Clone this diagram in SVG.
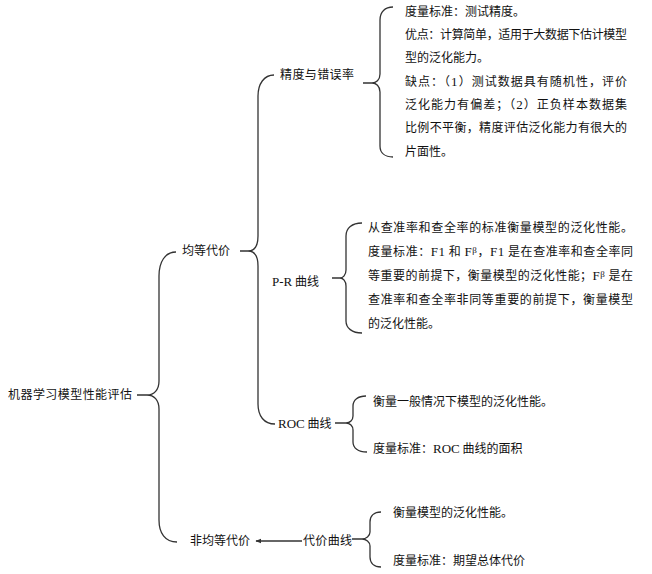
<svg xmlns="http://www.w3.org/2000/svg" width="652" height="574" viewBox="0 0 652 574">
<style>
text{font-family:"Noto Sans CJK SC","Liberation Sans",sans-serif;font-size:12px;fill:#111}
.lat{font-family:"Liberation Serif",serif;font-size:13px}
.sup{font-family:"Liberation Serif",serif;font-size:9px}
.br{fill:none;stroke:#333;stroke-width:1.3}
</style>
<defs>
<marker id="ah" viewBox="0 0 10 10" refX="9" refY="5" markerWidth="6" markerHeight="6" orient="auto-start-reverse" markerUnits="userSpaceOnUse">
<path d="M0,1 L10,5 L0,9 z" fill="#333"/>
</marker>
</defs>
<rect width="652" height="574" fill="#fff"/>
<g id="connectors">
<path class="br" d="M137,395 L147,395 M176,252 C165,252 159,262 159,276 L159,381 C159,390 154,395 147,395 C154,395 159,400 159,409 L159,520 C159,533 165,542 177,542"/>
<path class="br" d="M240,251 L248,251 M274,75 C264,75 258,84 258,96 L258,236 C258,246 254,251 248,251 C254,251 258,256 258,266 L258,404 C258,416 264,424 275,424"/>
<path class="br" d="M363,83 L372,83 M393,7 C385,7 380,12 380,20 L380,74 C380,80 376,83 372,83 C376,83 380,86 380,92 L380,146 C380,153 385,157 393,157"/>
<path class="br" d="M332,278 L340,278 M362,223 C352,223 346,228 346,236 L346,270 C346,275 343,278 340,278 C343,278 346,281 346,286 L346,321 C346,328 352,333 362,333"/>
<path class="br" d="M335,423 L346,423 M366,396 C358,396 353,400 353,406 L353,416 C353,420 350,423 346,423 C350,423 353,426 353,430 L353,442 C353,448 358,452 367,452"/>
<path class="br" d="M352,539 L362,539 M381,512 C374,512 370,516 370,522 L370,532 C370,536 366,539 362,539 C366,539 370,542 370,546 L370,557 C370,563 374,567 381,567"/>
<line class="br" x1="302" y1="541" x2="256" y2="541" marker-end="url(#ah)"/>
</g>
<g id="root"><text x="8" y="399" textLength="124">机器学习模型性能评估</text></g>
<g id="equal"><text x="182" y="255" textLength="48">均等代价</text></g>
<g id="unequal"><text x="190" y="545" textLength="60">非均等代价</text></g>
<g id="accuracy"><text x="280" y="79" textLength="74">精度与错误率</text></g>
<g id="pr"><text x="272" y="286"><tspan class="lat">P-R</tspan> 曲线</text></g>
<g id="roc"><text x="278" y="428"><tspan class="lat">ROC</tspan> 曲线</text></g>
<g id="cost"><text x="303" y="545" textLength="49">代价曲线</text></g>
<g id="accuracy-notes">
<text x="405" y="16">度量标准：测试精度。</text>
<text x="405" y="39" textLength="222">优点：计算简单，适用于大数据下估计模型</text>
<text x="405" y="62">型的泛化能力。</text>
<text x="405" y="86" textLength="222">缺点：（<tspan class="lat">1</tspan>）测试数据具有随机性，评价</text>
<text x="405" y="109" textLength="222">泛化能力有偏差；（<tspan class="lat">2</tspan>）正负样本数据集</text>
<text x="405" y="132" textLength="222">比例不平衡，精度评估泛化能力有很大的</text>
<text x="405" y="156">片面性。</text>
</g>
<g id="pr-notes">
<text x="368" y="232" textLength="265">从查准率和查全率的标准衡量模型的泛化性能。</text>
<text x="368" y="256" textLength="265">度量标准：<tspan class="lat">F1</tspan> 和 <tspan class="lat">F</tspan><tspan class="sup" dy="-3">β</tspan><tspan dy="3">，</tspan><tspan class="lat">F1</tspan> 是在查准率和查全率同</text>
<text x="368" y="280" textLength="265">等重要的前提下，衡量模型的泛化性能；<tspan class="lat">F</tspan><tspan class="sup" dy="-3">β</tspan><tspan dy="3"> 是在</tspan></text>
<text x="368" y="304" textLength="265">查准率和查全率非同等重要的前提下，衡量模型</text>
<text x="368" y="328">的泛化性能。</text>
</g>
<g id="roc-notes">
<text x="373" y="406">衡量一般情况下模型的泛化性能。</text>
<text x="373" y="453">度量标准：<tspan class="lat">ROC</tspan> 曲线的面积</text>
</g>
<g id="cost-notes">
<text x="393" y="517">衡量模型的泛化性能。</text>
<text x="393" y="565">度量标准：期望总体代价</text>
</g>
</svg>
